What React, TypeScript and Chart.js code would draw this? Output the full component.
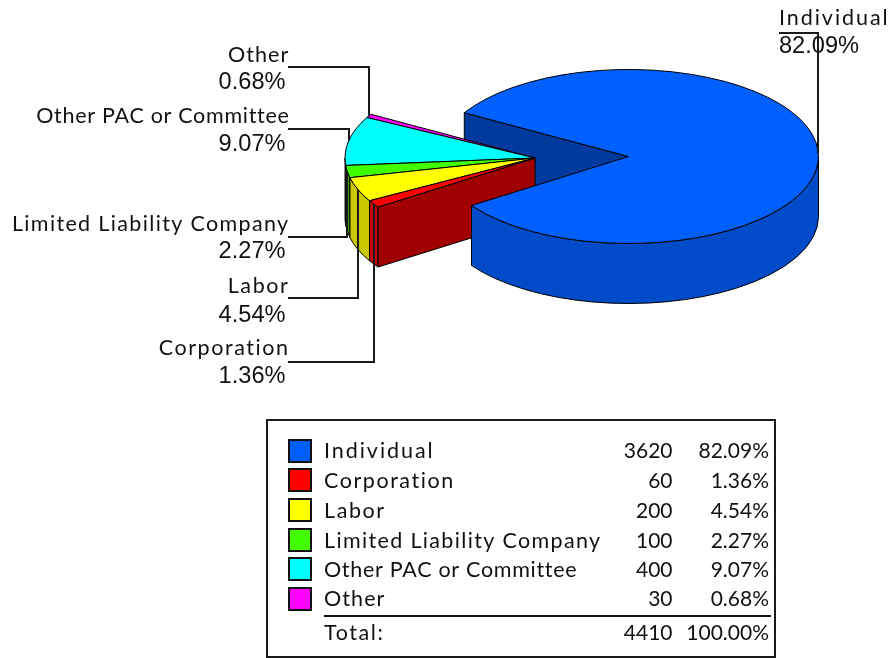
import React, { useEffect, useRef } from "react";
import { Chart, registerables } from "chart.js";

Chart.register(...registerables);

const categories = ["Individual", "Corporation", "Labor", "Limited Liability Company", "Other PAC or Committee", "Other"];
const amounts = [3620, 60, 200, 100, 400, 30];
const percents = ["82.09%", "1.36%", "4.54%", "2.27%", "9.07%", "0.68%"];
const totalAmount = "4410";
const totalPercent = "100.00%";
const topColors = ["#0060FF", "#FF0000", "#FFFF00", "#40FF00", "#00FFFF", "#FF00FF"];
const sideColors = ["#004CC8", "#C80000", "#C8C800", "#2E9E00", "#00C8C8", "#C800C8"];
const cutFaceColors = ["#003A9E", "#A00000"];
const nameSpacing = ["1.95px", "1.55px", "1.6px", "1.35px", "0.7px", "1.1px"];

// label layout: [name baseline, percent baseline, leader y]
const calloutRows = [
  [25, 53, 33],
  [355, 383, 362],
  [293, 322, 298],
  [231, 258, 237],
  [123, 151, 129],
  [62, 89, 67],
];

const TILT = 0.458;
const DEPTH = 60;
const EXPLODE = 93.5;
const CENTER_Y = 156.5;
const NAME_FONT = "21.5px Lato, 'Open Sans', sans-serif";
const NUM_FONT = "21px Lato, 'Open Sans', sans-serif";
const PCT_FONT = "23.6px 'Liberation Sans', Arial, sans-serif";
const INK = "#111";

const pie3d = {
  id: "pie3d",
  beforeDatasetsDraw(chart: any) {
    const ctx: CanvasRenderingContext2D = chart.ctx;
    const arcs: any[] = chart.getDatasetMeta(0).data;
    const groupAngle = (arcs[1].startAngle + arcs[arcs.length - 1].endAngle) / 2;
    const shift = (i: number) =>
      i === 0 ? { x: 0, y: 0 } : { x: Math.cos(groupAngle) * EXPLODE, y: Math.sin(groupAngle) * EXPLODE * TILT };

    const geom = (i: number) => {
      const a = arcs[i];
      const s = shift(i);
      return { cx: a.x + s.x, cy: CENTER_Y + s.y, r: a.outerRadius, a0: a.startAngle, a1: a.endAngle };
    };
    const strokeFill = (fill: string) => {
      ctx.fillStyle = fill;
      ctx.fill();
      ctx.lineWidth = 1;
      ctx.strokeStyle = "#000";
      ctx.stroke();
    };
    const radialFace = (i: number, angle: number, fill: string) => {
      const g = geom(i);
      const ex = g.cx + Math.cos(angle) * g.r;
      const ey = g.cy + Math.sin(angle) * g.r * TILT;
      ctx.beginPath();
      ctx.moveTo(g.cx, g.cy);
      ctx.lineTo(ex, ey);
      ctx.lineTo(ex, ey + DEPTH);
      ctx.lineTo(g.cx, g.cy + DEPTH);
      ctx.closePath();
      strokeFill(fill);
    };
    const rimSide = (i: number) => {
      const g = geom(i);
      const lo = Math.max(g.a0, 0);
      const hi = Math.min(g.a1, Math.PI);
      if (hi <= lo) return;
      ctx.beginPath();
      ctx.ellipse(g.cx, g.cy, g.r, g.r * TILT, 0, lo, hi);
      ctx.lineTo(g.cx + Math.cos(hi) * g.r, g.cy + Math.sin(hi) * g.r * TILT + DEPTH);
      ctx.ellipse(g.cx, g.cy + DEPTH, g.r, g.r * TILT, 0, hi, lo, true);
      ctx.closePath();
      strokeFill(sideColors[i]);
    };
    const topFace = (i: number) => {
      const g = geom(i);
      const a = arcs[i];
      ctx.save();
      ctx.translate(g.cx, g.cy);
      ctx.scale(1, TILT);
      ctx.translate(-a.x, -a.y);
      a.draw(ctx);
      ctx.restore();
      ctx.beginPath();
      ctx.moveTo(g.cx, g.cy);
      ctx.ellipse(g.cx, g.cy, g.r, g.r * TILT, 0, g.a0, g.a1);
      ctx.closePath();
      ctx.lineWidth = 1;
      ctx.strokeStyle = "#000";
      ctx.stroke();
    };

    ctx.save();
    ctx.lineJoin = "round";
    radialFace(0, arcs[0].startAngle, cutFaceColors[0]);
    for (let i = arcs.length - 1; i >= 1; i--) rimSide(i);
    radialFace(1, arcs[1].startAngle, cutFaceColors[1]);
    for (let i = arcs.length - 1; i >= 1; i--) topFace(i);
    rimSide(0);
    topFace(0);
    ctx.restore();

    // callouts
    ctx.save();
    ctx.fillStyle = INK;
    ctx.textBaseline = "alphabetic";
    arcs.forEach((_: any, i: number) => {
      const g = geom(i);
      const mid = (g.a0 + g.a1) / 2;
      const ax = Math.round(g.cx + Math.cos(mid) * g.r);
      const ay = g.cy + Math.sin(mid) * g.r * TILT;
      const [nameY, pctY, leadY] = calloutRows[i];
      const right = i === 0;
      ctx.font = NAME_FONT;
      (ctx as any).letterSpacing = nameSpacing[i];
      ctx.textAlign = right ? "left" : "right";
      ctx.fillText(categories[i], right ? 779 : 289.5, nameY);
      (ctx as any).letterSpacing = "0px";
      ctx.font = PCT_FONT;
      ctx.fillText(percents[i], right ? 779 : 285.5, pctY);
      ctx.beginPath();
      ctx.moveTo(right ? 779 : 288, leadY);
      ctx.lineTo(ax, leadY);
      ctx.lineTo(ax, ay);
      ctx.lineWidth = 2;
      ctx.strokeStyle = "#1a1a1a";
      ctx.stroke();
    });
    ctx.restore();

    // legend table
    ctx.save();
    ctx.strokeStyle = "#1a1a1a";
    ctx.lineWidth = 2;
    ctx.strokeRect(267, 420, 508, 237);
    const rowY = [458, 488, 518, 548, 577, 606];
    const swatchY = [440, 469, 499, 529, 558, 588];
    categories.forEach((name, i) => {
      ctx.fillStyle = topColors[i];
      ctx.fillRect(289, swatchY[i], 22, 22);
      ctx.strokeStyle = "#111";
      ctx.lineWidth = 2;
      ctx.strokeRect(289, swatchY[i], 22, 22);
      ctx.fillStyle = INK;
      ctx.font = NAME_FONT;
      (ctx as any).letterSpacing = nameSpacing[i];
      ctx.textAlign = "left";
      ctx.fillText(name, 324, rowY[i]);
      (ctx as any).letterSpacing = "0px";
      ctx.font = NUM_FONT;
      ctx.textAlign = "right";
      ctx.fillText(String(amounts[i]), 672.5, rowY[i]);
      ctx.fillText(percents[i], 769, rowY[i]);
    });
    ctx.beginPath();
    ctx.moveTo(324, 616);
    ctx.lineTo(771, 616);
    ctx.lineWidth = 2;
    ctx.stroke();
    ctx.font = NAME_FONT;
    (ctx as any).letterSpacing = "1.6px";
    ctx.textAlign = "left";
    ctx.fillText("Total:", 324, 640);
    (ctx as any).letterSpacing = "0px";
    ctx.font = NUM_FONT;
    ctx.textAlign = "right";
    ctx.fillText(totalAmount, 672.5, 640);
    ctx.fillText(totalPercent, 769, 640);
    ctx.restore();
    return false;
  },
};

export default function App() {
  const ref = useRef<HTMLCanvasElement>(null);
  useEffect(() => {
    const chart = new Chart(ref.current as HTMLCanvasElement, {
      type: "pie",
      data: {
        labels: categories,
        datasets: [{ data: amounts, backgroundColor: topColors, borderWidth: 0 }],
      },
      options: {
        responsive: false,
        animation: false,
        rotation: -59.8,
        events: [],
        layout: { padding: { left: 438.5, right: 74.5, top: 0, bottom: 278 } },
        plugins: { legend: { display: false }, tooltip: { enabled: false }, title: { display: false } },
      },
      plugins: [pie3d],
    } as any);
    return () => chart.destroy();
  }, []);
  return (
    <canvas
      ref={ref}
      width={893}
      height={658}
      style={{ position: "absolute", left: 0, top: 0, display: "block", background: "#fff" }}
    />
  );
}
